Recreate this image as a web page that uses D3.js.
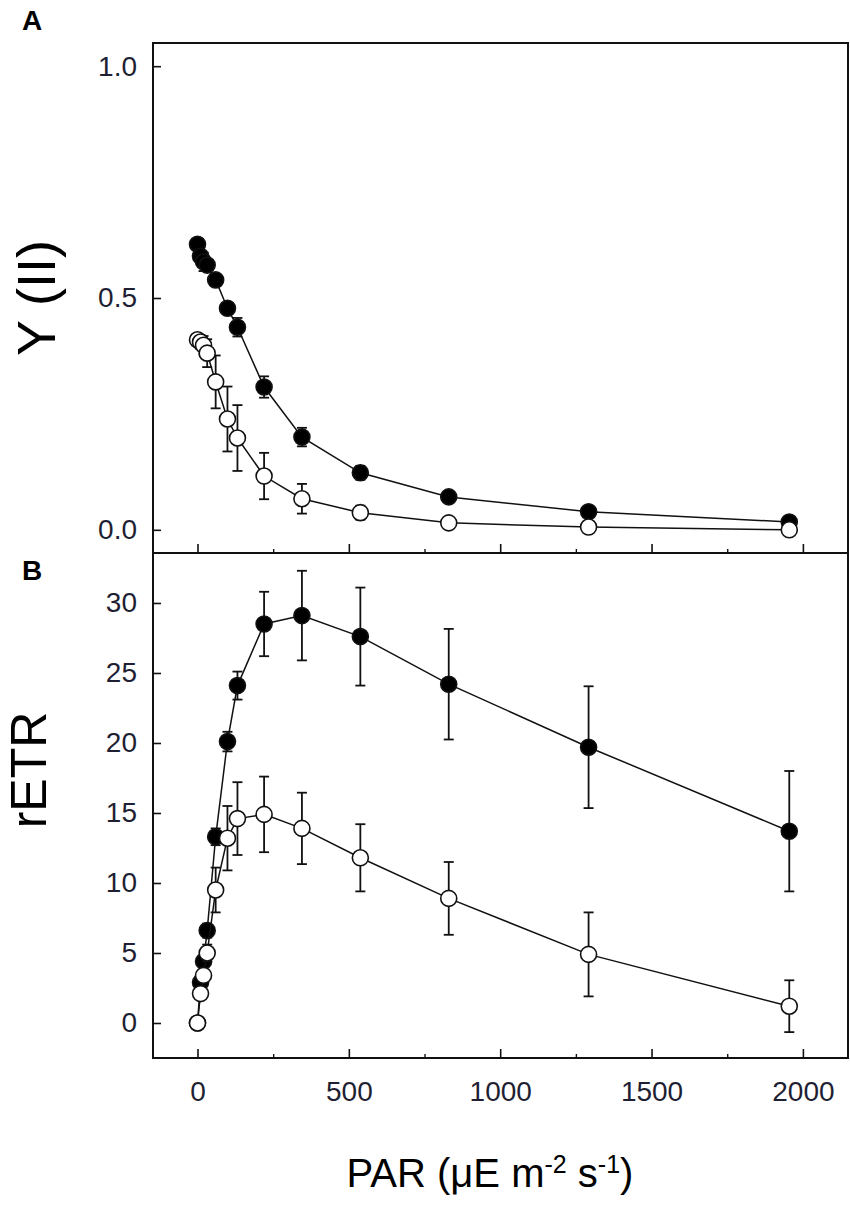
<!DOCTYPE html>
<html>
<head>
<meta charset="utf-8">
<script src="https://cdn.jsdelivr.net/npm/d3@7"></script>
<style>
	body { margin: 0; background: #fff; }
	text { font-family: "Liberation Sans", Arial, sans-serif; }
	.axis path, .axis line { stroke: #111; }
	.axis text { fill: #1f1f33; font-size: 28px; }
</style>
</head>
<body>
<div id="chart-area"></div>
<script>

// light steps (PAR) shared by both panels
let par = [0, 10, 20, 32, 60, 99, 132, 220, 345, 538, 830, 1292, 1955];

// panel A : effective quantum yield Y(II)
let yFilled    = [0.616, 0.590, 0.578, 0.571, 0.539, 0.478, 0.437, 0.308, 0.200, 0.123, 0.071, 0.039, 0.017];
let yFilledErr = [0.008, 0.010, 0.020, 0.012, 0.012, 0.010, 0.020, 0.023, 0.020, 0.015, 0.010, 0.008, 0.006];
let yOpen      = [0.410, 0.405, 0.398, 0.381, 0.319, 0.239, 0.198, 0.116, 0.067, 0.037, 0.015, 0.006, 0.000];
let yOpenErr   = [0.010, 0.015, 0.020, 0.030, 0.057, 0.070, 0.071, 0.050, 0.032, 0.015, 0.010, 0.010, 0.006];

// panel B : relative electron transport rate
let rFilled    = [0, 2.9, 4.4, 6.6, 13.3, 20.1, 24.1, 28.5, 29.1, 27.6, 24.2, 19.7, 13.7];
let rFilledErr = [0, 0.3, 0.4, 0.5, 0.6, 0.7, 1.0, 2.3, 3.2, 3.5, 3.95, 4.35, 4.3];
let rOpen      = [0, 2.1, 3.4, 5.0, 9.5, 13.2, 14.6, 14.9, 13.9, 11.8, 8.9, 4.9, 1.2];
let rOpenErr   = [0, 0.3, 0.4, 0.6, 1.6, 2.3, 2.6, 2.7, 2.55, 2.4, 2.6, 3.0, 1.85];

let xMajor = [0, 500, 1000, 1500, 2000];
let xMinor = [250, 750, 1250, 1750];
let yTicksA = [0, 0.5, 1.0];
let yTicksB = [0, 5, 10, 15, 20, 25, 30];

let width = 850, height = 1208;
let plotLeft = 153, plotRight = 848;
let aTop = 43, aBottom = 553, bBottom = 1058;
let r = 8, cap = 5;

let svg = d3.select("#chart-area").append("svg")
	.attr("width", width)
	.attr("height", height);

// Scales
let x = d3.scaleLinear()
	.domain([-147, 2149])
	.range([plotLeft, plotRight]);

let yA = d3.scaleLinear()
	.domain([-0.05, 1.05])
	.range([aBottom, aTop]);

let yB = d3.scaleLinear()
	.domain([-2.5, 33.57])
	.range([bBottom, aBottom]);

function drawPanel(yScale, yTicks, fmt, top, bottom, filled, filledErr, open, openErr, showXLabels) {

	// y axis, ticks pointing inward
	svg.append("g")
		.attr("class", "axis")
		.attr("transform", "translate(" + plotLeft + ",0)")
		.call(d3.axisLeft(yScale).tickValues(yTicks).tickFormat(fmt)
			.tickSizeInner(-8).tickSizeOuter(0).tickPadding(16))
		.call(g => g.select(".domain").remove())
		.selectAll("line").attr("stroke-width", 1.6);

	// x axis, major and minor ticks pointing up
	let xa = svg.append("g")
		.attr("class", "axis")
		.attr("transform", "translate(0," + bottom + ")")
		.call(d3.axisBottom(x).tickValues(xMajor).tickFormat(showXLabels ? d3.format("d") : "")
			.tickSizeInner(-9).tickSizeOuter(0).tickPadding(23));
	xa.select(".domain").remove();
	xa.selectAll("line").attr("stroke-width", 1.6);

	svg.append("g")
		.attr("class", "axis")
		.attr("transform", "translate(0," + bottom + ")")
		.call(d3.axisBottom(x).tickValues(xMinor).tickFormat("")
			.tickSizeInner(-4).tickSizeOuter(0))
		.call(g => g.select(".domain").remove())
		.selectAll("line").attr("stroke-width", 1.4);

	// frame
	svg.append("rect")
		.attr("x", plotLeft)
		.attr("y", top)
		.attr("width", plotRight - plotLeft)
		.attr("height", bottom - top)
		.attr("fill", "none")
		.attr("stroke", "#111")
		.attr("stroke-width", 2);

	let line = d3.line()
		.x((d, i) => x(par[i]))
		.y(d => yScale(d));

	[[filled, filledErr, "#000"], [open, openErr, "#fff"]].forEach(s => {
		let vals = s[0], errs = s[1], fill = s[2];

		svg.append("path")
			.datum(vals)
			.attr("fill", "none")
			.attr("stroke", "#111")
			.attr("stroke-width", 1.5)
			.attr("d", line);

		let eb = svg.append("g")
			.attr("stroke", "#111")
			.attr("stroke-width", 1.8)
			.selectAll("g")
			.data(vals.map((v, i) => ({x: par[i], v: v, e: errs[i]})).filter(d => d.e > 0))
			.enter().append("g");
		eb.append("line")
			.attr("x1", d => x(d.x)).attr("x2", d => x(d.x))
			.attr("y1", d => yScale(d.v - d.e)).attr("y2", d => yScale(d.v + d.e));
		eb.append("line")
			.attr("x1", d => x(d.x) - cap).attr("x2", d => x(d.x) + cap)
			.attr("y1", d => yScale(d.v + d.e)).attr("y2", d => yScale(d.v + d.e));
		eb.append("line")
			.attr("x1", d => x(d.x) - cap).attr("x2", d => x(d.x) + cap)
			.attr("y1", d => yScale(d.v - d.e)).attr("y2", d => yScale(d.v - d.e));

		svg.append("g")
			.selectAll("circle")
			.data(vals)
			.enter().append("circle")
			.attr("cx", (d, i) => x(par[i]))
			.attr("cy", d => yScale(d))
			.attr("r", r)
			.attr("fill", fill)
			.attr("stroke", "#111")
			.attr("stroke-width", 1.6);
	});
}

drawPanel(yA, yTicksA, d3.format(".1f"), aTop, aBottom, yFilled, yFilledErr, yOpen, yOpenErr, false);
drawPanel(yB, yTicksB, d3.format("d"), aBottom, bBottom, rFilled, rFilledErr, rOpen, rOpenErr, true);

// panel letters
svg.append("text").attr("x", 22).attr("y", 30)
	.attr("font-size", 28).attr("font-weight", "bold").text("A");
svg.append("text").attr("x", 22).attr("y", 580)
	.attr("font-size", 28).attr("font-weight", "bold").text("B");

// axis titles
svg.append("text")
	.attr("transform", "translate(55,298) rotate(-90)")
	.attr("text-anchor", "middle")
	.attr("font-size", 54)
	.text("Y (II)");

svg.append("text")
	.attr("transform", "translate(46,770) rotate(-90)")
	.attr("text-anchor", "middle")
	.attr("font-size", 50)
	.text("rETR");

let xt = svg.append("text")
	.attr("x", 490)
	.attr("y", 1187)
	.attr("text-anchor", "middle")
	.attr("font-size", 40);
xt.append("tspan").text("PAR (\u03bcE m");
xt.append("tspan").attr("font-size", 25).attr("dy", -14).text("-2");
xt.append("tspan").attr("dy", 14).text(" s");
xt.append("tspan").attr("font-size", 25).attr("dy", -14).text("-1");
xt.append("tspan").attr("dy", 14).text(")");

</script>
</body>
</html>
